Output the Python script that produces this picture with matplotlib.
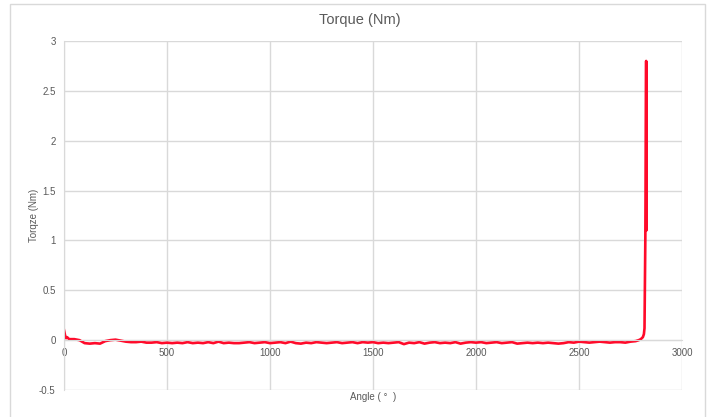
import matplotlib.pyplot as plt
from matplotlib.patches import Rectangle

# data
angle = [0, 5, 10, 15, 25, 50, 75, 100, 125, 150, 175, 200, 225, 250, 275,
         300, 325, 350, 375, 400, 425, 450, 475, 500, 525, 550, 575, 600, 625,
         650, 675, 700, 725, 750, 775, 800, 825, 850, 875, 900, 925, 950, 975,
         1000, 1025, 1050, 1075, 1100, 1125, 1150, 1175, 1200, 1225, 1250,
         1275, 1300, 1325, 1350, 1375, 1400, 1425, 1450, 1475, 1500, 1525,
         1550, 1575, 1600, 1625, 1650, 1675, 1700, 1725, 1750, 1775, 1800,
         1825, 1850, 1875, 1900, 1925, 1950, 1975, 2000, 2025, 2050, 2075,
         2100, 2125, 2150, 2175, 2200, 2225, 2250, 2275, 2300, 2325, 2350,
         2375, 2400, 2425, 2450, 2475, 2500, 2525, 2550, 2575, 2600, 2625,
         2650, 2675, 2700, 2725, 2750, 2775, 2790, 2800, 2810, 2815, 2818,
         2822, 2826, 2827, 2828]
torque = [0.10, 0.05, 0.02, 0.03, 0.01, 0.01, 0.0, -0.03, -0.035, -0.03,
          -0.035, -0.01, 0.0, 0.005, -0.005, -0.015, -0.02, -0.02, -0.015,
          -0.025, -0.025, -0.02, -0.03, -0.025, -0.03, -0.025, -0.03, -0.02,
          -0.03, -0.025, -0.03, -0.02, -0.03, -0.015, -0.03, -0.025, -0.03,
          -0.03, -0.025, -0.02, -0.03, -0.025, -0.02, -0.03, -0.025, -0.02,
          -0.03, -0.015, -0.03, -0.035, -0.025, -0.03, -0.02, -0.025, -0.03,
          -0.025, -0.02, -0.03, -0.025, -0.02, -0.03, -0.02, -0.025, -0.02,
          -0.03, -0.025, -0.03, -0.025, -0.02, -0.04, -0.025, -0.03, -0.02,
          -0.035, -0.025, -0.02, -0.03, -0.025, -0.03, -0.02, -0.035, -0.025,
          -0.02, -0.025, -0.02, -0.03, -0.025, -0.02, -0.03, -0.025, -0.02,
          -0.035, -0.03, -0.025, -0.03, -0.025, -0.03, -0.025, -0.03, -0.035,
          -0.03, -0.02, -0.025, -0.015, -0.02, -0.025, -0.02, -0.015, -0.02,
          -0.025, -0.02, -0.02, -0.025, -0.015, -0.01, 0.0, 0.01, 0.03, 0.06,
          0.12, 1.02, 2.80, 1.10, 2.78]

plt.rcParams['font.family'] = ['Liberation Sans', 'DejaVu Sans']
txt = '#595959'
grid = '#d9d9d9'

fig = plt.figure(figsize=(7.11, 4.17), dpi=100)
fig.patches.append(Rectangle((10 / 711, -0.1), 695 / 711, 1.1 - 4 / 417,
                             transform=fig.transFigure, fill=False,
                             edgecolor=grid, linewidth=1))
ax = fig.add_axes([64 / 711, 1 - 390 / 417, 618 / 711, 349 / 417])

ax.plot(angle, torque, color='#ff0a2a', linewidth=1.9)

ax.set_xlim(0, 3000)
ax.set_ylim(-0.5, 3)
ax.set_xticks(range(0, 3001, 500))
ax.set_yticks([-0.5, 0, 0.5, 1, 1.5, 2, 2.5, 3])
ax.set_yticklabels(['-0.5', '0', '0.5', '1', '1.5', '2', '2.5', '3'])
ax.grid(True, color=grid, linewidth=1)
ax.set_axisbelow(True)
for s in ['top', 'right']:
    ax.spines[s].set_visible(False)
ax.spines['left'].set_color(grid)
ax.spines['bottom'].set_color(grid)
ax.spines['bottom'].set_position(('data', 0))
ax.tick_params(length=0, labelsize=7, colors=txt, pad=6)

fig.text(360 / 711, 1 - 20 / 417, 'Torque (Nm)', ha='center', va='center',
         fontsize=10.5, color=txt)
ax.set_ylabel('Torqze (Nm)', fontsize=7, color=txt)
ax.yaxis.set_label_coords(-25 / 618, 0.5)
ax.text(0.5, -0.005, 'Angle ( °  )', transform=ax.transAxes, ha='center',
        va='top', fontsize=7, color=txt)

fig.savefig('out.png', dpi=100)
